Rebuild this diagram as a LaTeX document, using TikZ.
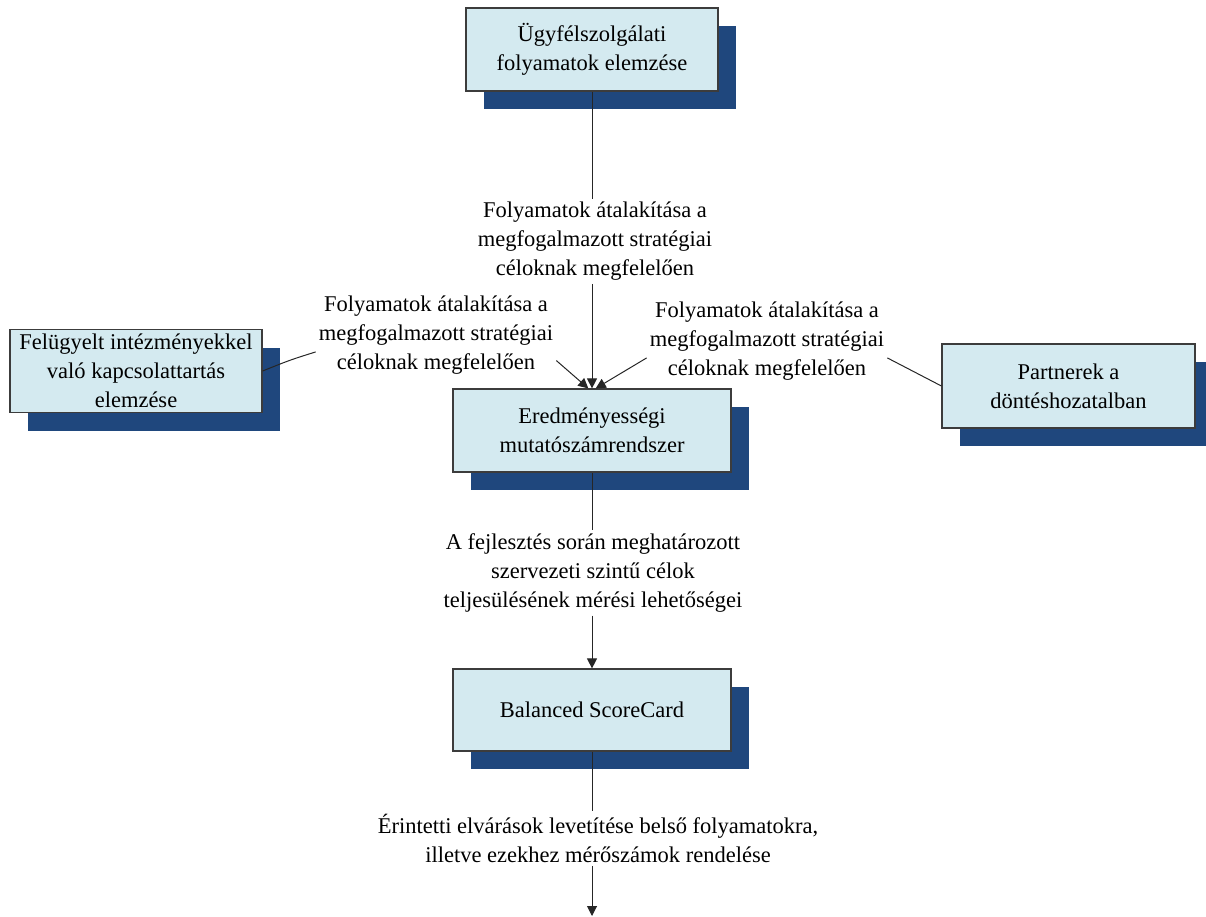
\documentclass[tikz,border=0pt]{standalone}
\usepackage{fontspec}
\setmainfont{Liberation Serif}
\usetikzlibrary{arrows.meta,shadows}
\definecolor{boxfill}{HTML}{D4EAF0}
\definecolor{boxline}{HTML}{3C3C3C}
\definecolor{navy}{HTML}{1F477D}
\definecolor{wire}{HTML}{262626}
\tikzset{
  box/.style ={draw=boxline,line width=1.2pt,fill=boxfill,align=center,
               minimum height=83pt,inner sep=4pt,
               drop shadow={shadow xshift=18pt,shadow yshift=-18pt,fill=navy,opacity=1}},
  note/.style={align=center,inner sep=3pt},
  link/.style={line width=1pt,draw=wire},
  flow/.style={-{Triangle[length=10pt,width=10pt]},line width=1pt,draw=wire}
}
\begin{document}
\begin{tikzpicture}[x=1pt,y=-1pt,font=\fontsize{22.5}{29}\selectfont]
    \useasboundingbox (0,0) rectangle (1206,917);
    \node[box,minimum width=252pt] (ugyf) at (592,49.5) {Ügyfélszolgálati\\folyamatok elemzése};
    \node[box,minimum width=252pt] (felug) at (136,371) {Felügyelt intézményekkel\\való kapcsolattartás\\elemzése};
    \node[box,minimum width=278pt] (mutato) at (592,430.5) {Eredményességi\\mutatószámrendszer};
    \node[box,minimum width=253pt,minimum height=84pt] (partner) at (1068.5,386) {Partnerek a\\döntéshozatalban};
    \node[box,minimum width=278pt,minimum height=82pt] (bsc) at (592,710) {Balanced ScoreCard};
    \node[note] (atal1) at (595,241.5) {Folyamatok átalakítása a\\megfogalmazott stratégiai\\céloknak megfelelően};
    \node[note] (atal2) at (436,335) {Folyamatok átalakítása a\\megfogalmazott stratégiai\\céloknak megfelelően};
    \node[note] (atal3) at (767,341) {Folyamatok átalakítása a\\megfogalmazott stratégiai\\céloknak megfelelően};
    \node[note] (meres) at (593,573) {A fejlesztés során meghatározott\\szervezeti szintű célok\\teljesülésének mérési lehetőségei};
    \node[note] (elvar) at (598,838.5) {Érintetti elvárások levetítése belső folyamatokra,\\illetve ezekhez mérőszámok rendelése};
    \coordinate (tovabb) at (592,916);
    \draw[link] (ugyf) -- (ugyf |- atal1.north);
    \draw[flow] (ugyf |- atal1.south) -- (mutato.north);
    \draw[link] (felug.east) .. controls (290,360) .. (atal2.188);
    \draw[flow] (atal2.-12) -- (mutato.95);
    \draw[link] (partner.west) .. controls (915,372) .. (atal3.-8);
    \draw[flow] (atal3.188) -- (mutato.85);
    \draw[link] (mutato) -- (mutato |- meres.north);
    \draw[flow] (mutato |- meres.south) -- (bsc.north);
    \draw[link] (bsc) -- (bsc |- elvar.north);
    \draw[flow] (bsc |- elvar.south) -- (tovabb);
  \end{tikzpicture}
\end{document}
